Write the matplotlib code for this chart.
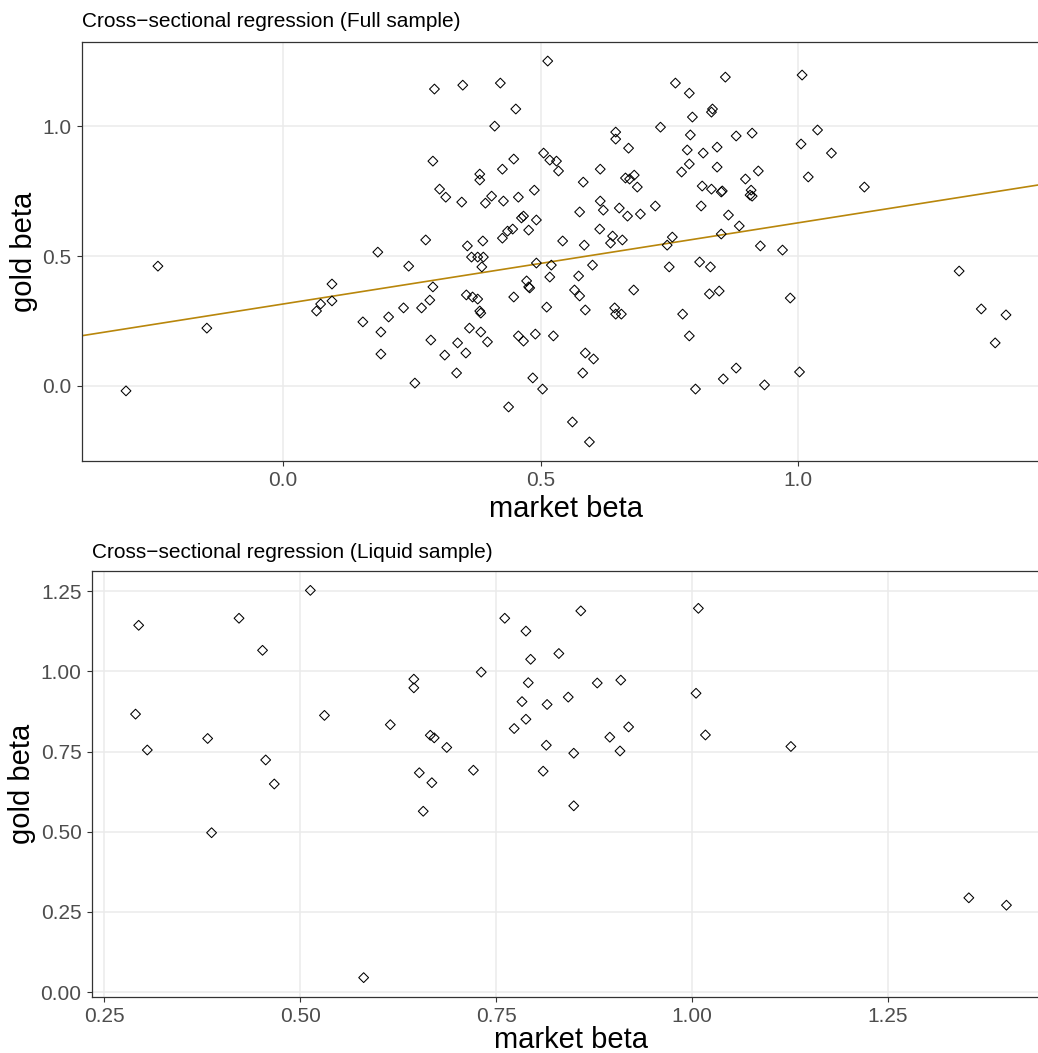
import numpy as np
import matplotlib
matplotlib.use("Agg")
import matplotlib.pyplot as plt

plt.rcParams['font.family'] = ['Liberation Sans', 'DejaVu Sans']

# ---- Full sample (market beta, gold beta) ----
full_market_beta = [
    0.294, 0.349, 0.422, 0.452, 0.411, 0.291, 0.382, 0.382, 0.426, 0.448,
    0.304, 0.316, 0.347, 0.393, 0.405, 0.428, 0.457, 0.488, 0.277, 0.388,
    0.426, 0.436, 0.446, 0.463, 0.467, 0.477, 0.492, 0.358,
    0.184, 0.244, 0.095, 0.073, 0.065, 0.095, 0.155, 0.190, 0.190, 0.205,
    0.234, 0.269, 0.285, 0.291, 0.287, 0.256, 0.314, 0.337, 0.339, 0.355,
    0.362, 0.356, 0.368, 0.378, 0.382, 0.384, 0.384, 0.397, 0.366, 0.378,
    0.389, 0.386, 0.438, 0.448, 0.473, 0.477, 0.479, 0.457, 0.467, 0.485,
    0.490, 0.492,
    0.514, 0.762, 0.789, 0.859, 0.832, 0.834, 0.795, 0.733, 0.646, 0.646,
    0.671, 0.791, 0.785, 0.816, 0.843, 0.880, 0.911, 0.506, 0.518, 0.531,
    0.535, 0.583, 0.616, 0.665, 0.673, 0.682, 0.688, 0.789, 0.774, 0.843,
    0.814, 0.832, 0.851, 0.853, 0.898, 0.923, 0.909, 0.907, 0.911, 0.576,
    0.616, 0.622, 0.653, 0.669, 0.694, 0.723, 0.812, 0.865, 0.886, 0.615,
    0.640, 0.636, 0.659, 0.543, 0.585, 0.756, 0.746, 0.851, 0.927,
    0.521, 0.601, 0.518, 0.574, 0.750, 0.809, 0.830, 0.566, 0.576, 0.681,
    0.828, 0.847, 0.512, 0.587, 0.644, 0.646, 0.657, 0.776, 0.525, 0.789,
    0.587, 0.603, 0.582, 0.504, 0.801, 0.855, 0.880, 0.935, 0.562, 0.595,
    0.970,
    1.008, 1.038, 1.006, 1.065, 1.020, 1.129,
    1.313, 0.985, 1.356, 1.404, 1.383, 1.003,
    -0.243, -0.148, -0.305,
]
full_gold_beta = [
    1.144, 1.159, 1.167, 1.067, 1.001, 0.866, 0.816, 0.793, 0.835, 0.874,
    0.758, 0.727, 0.708, 0.704, 0.731, 0.712, 0.727, 0.754, 0.562, 0.558,
    0.569, 0.596, 0.604, 0.647, 0.654, 0.600, 0.639, 0.539,
    0.515, 0.461, 0.392, 0.315, 0.288, 0.327, 0.246, 0.207, 0.122, 0.265,
    0.300, 0.300, 0.330, 0.381, 0.176, 0.010, 0.118, 0.049, 0.165, 0.126,
    0.222, 0.350, 0.342, 0.334, 0.288, 0.280, 0.207, 0.169, 0.496, 0.496,
    0.496, 0.458, -0.082, 0.342, 0.404, 0.381, 0.377, 0.192, 0.172, 0.030,
    0.199, 0.473,
    1.252, 1.167, 1.128, 1.190, 1.055, 1.067, 1.036, 0.997, 0.978, 0.951,
    0.916, 0.967, 0.909, 0.897, 0.920, 0.963, 0.974, 0.897, 0.870, 0.866,
    0.828, 0.785, 0.835, 0.801, 0.797, 0.812, 0.766, 0.855, 0.824, 0.843,
    0.770, 0.758, 0.747, 0.751, 0.797, 0.828, 0.754, 0.735, 0.731, 0.670,
    0.712, 0.677, 0.685, 0.654, 0.662, 0.693, 0.693, 0.658, 0.616, 0.604,
    0.577, 0.550, 0.562, 0.558, 0.542, 0.573, 0.542, 0.585, 0.539,
    0.465, 0.465, 0.419, 0.423, 0.458, 0.477, 0.458, 0.369, 0.346, 0.369,
    0.354, 0.365, 0.303, 0.292, 0.300, 0.276, 0.276, 0.276, 0.192, 0.192,
    0.126, 0.103, 0.049, -0.013, -0.013, 0.026, 0.068, 0.003, -0.140, -0.217,
    0.523,
    1.198, 0.986, 0.932, 0.897, 0.805, 0.766,
    0.442, 0.338, 0.296, 0.273, 0.165, 0.053,
    0.461, 0.222, -0.020,
]

# regression line shown on the full-sample panel
reg_intercept = 0.315
reg_slope = 0.313

# ---- Liquid sample ----
liquid_market_beta = [
    0.294, 0.422, 0.452, 0.513, 0.290, 0.305, 0.382, 0.456, 0.467, 0.531,
    0.615, 0.761, 0.788, 0.858, 1.008, 0.830, 0.794, 0.731, 0.645, 0.645,
    0.791, 0.879, 0.909, 1.005, 0.783, 0.815, 0.842, 0.788, 0.773, 0.919,
    1.017, 0.895, 0.666, 0.671, 0.687, 0.814, 0.849, 0.908, 0.652, 0.668,
    0.721, 0.810, 0.657, 0.849, 1.126, 1.353, 1.401, 0.387, 0.581,
]
liquid_gold_beta = [
    1.144, 1.166, 1.066, 1.253, 0.867, 0.755, 0.791, 0.724, 0.649, 0.863,
    0.834, 1.166, 1.126, 1.189, 1.197, 1.056, 1.038, 0.998, 0.976, 0.949,
    0.965, 0.964, 0.973, 0.932, 0.906, 0.897, 0.920, 0.851, 0.822, 0.827,
    0.802, 0.795, 0.801, 0.793, 0.763, 0.770, 0.745, 0.752, 0.684, 0.653,
    0.692, 0.689, 0.564, 0.581, 0.766, 0.294, 0.271, 0.497, 0.045,
]

titles = ["Cross\u2212sectional regression (Full sample)",
          "Cross\u2212sectional regression (Liquid sample)"]
x_label = "market beta"
y_label = "gold beta"
top_ticks = [0.0, 0.5, 1.0]
top_ticklabels = ["0.0", "0.5", "1.0"]
bot_ticks = [0.0, 0.25, 0.5, 0.75, 1.0, 1.25]
bot_yticklabels = ["0.00", "0.25", "0.50", "0.75", "1.00", "1.25"]
bot_xticks = [0.25, 0.5, 0.75, 1.0, 1.25]
bot_xticklabels = ["0.25", "0.50", "0.75", "1.00", "1.25"]

LINE_COLOR = "#B8860B"
GRID = "#EBEBEB"
W, H = 1038, 1053
fig = plt.figure(figsize=(W / 100, H / 100), dpi=100)


def pos(l, r, t, b):
    return [l / W, 1 - b / H, (r - l) / W, (b - t) / H]


ax1 = fig.add_axes(pos(82, 1050, 42, 461))
ax2 = fig.add_axes(pos(92, 1050, 571, 997))


def style(ax, x, y, xpad):
    x = np.asarray(x); y = np.asarray(y)
    dx = (x.max() - x.min()) * 0.05
    dy = (y.max() - y.min()) * 0.05
    ax.set_xlim(x.min() - dx, x.max() + dx)
    ax.set_ylim(y.min() - dy, y.max() + dy)
    ax.grid(True, color=GRID, linewidth=1.1, zorder=0)
    ax.set_axisbelow(True)
    for s in ax.spines.values():
        s.set_color("#333333")
        s.set_linewidth(0.9)
    ax.tick_params(axis="both", colors="#333333", length=3.5, width=0.8,
                   labelcolor="#4D4D4D", labelsize=15, pad=4)
    ax.set_xlabel(x_label, fontsize=21, color="black", labelpad=xpad)
    ax.set_ylabel(y_label, fontsize=21, color="black", labelpad=3)


for ax, xs, ys, title, tpad, xpad in [
        (ax1, full_market_beta, full_gold_beta, titles[0], 11, 3),
        (ax2, liquid_market_beta, liquid_gold_beta, titles[1], 9, 0)]:
    style(ax, xs, ys, xpad)
    ax.scatter(xs, ys, marker="D", s=5.0 ** 2, facecolors="none",
               edgecolors="black", linewidths=0.75, zorder=3)
    ax.set_title(title, loc="left", fontsize=15, pad=tpad, color="black")

ax1.axline((0, reg_intercept), slope=reg_slope, color=LINE_COLOR, linewidth=1.2, zorder=2)

ax1.set_xticks(top_ticks, top_ticklabels)
ax1.set_yticks(top_ticks, top_ticklabels)
ax2.set_xticks(bot_xticks, bot_xticklabels)
ax2.set_yticks(bot_ticks, bot_yticklabels)

fig.savefig("out.png", dpi=100)
